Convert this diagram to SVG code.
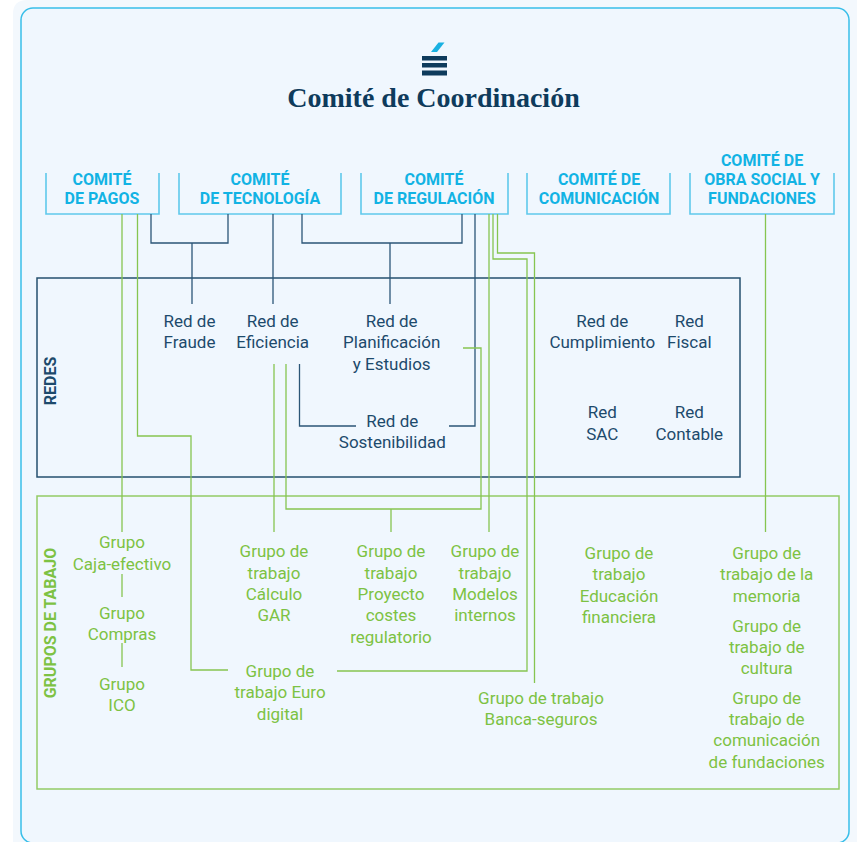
<svg xmlns="http://www.w3.org/2000/svg" width="857" height="842" viewBox="0 0 857 842">
<style>
.cm{font-family:Roboto,"Liberation Sans",sans-serif;font-weight:700;font-size:16px;fill:#12B3E4;text-anchor:middle}
.cb{fill:none;stroke:#5FC9EC;stroke-width:1.6}
.rd{font-family:Roboto,"Liberation Sans",sans-serif;font-size:17px;fill:#1D4A6C;text-anchor:middle}
.gr{font-family:Roboto,"Liberation Sans",sans-serif;font-size:17px;fill:#7DC243;text-anchor:middle}
.lbl{font-family:Roboto,"Liberation Sans",sans-serif;font-weight:700;font-size:16px;text-anchor:middle}
.dk{fill:none;stroke:#2B5677;stroke-width:1.3}
.gn{fill:none;stroke:#86C550;stroke-width:1.3}
</style>
<path d="M13,842 V14 Q13,0 27,0 H857 V842 Z" fill="#F3F8FD"/>
<rect x="21" y="8" width="828" height="835" rx="12" fill="#F0F7FE" stroke="#38BEE9" stroke-width="1.5"/>

<g id="title">
  <polygon points="431,52 437,52 444.5,42.5 438.5,42.5" fill="#19B1E2"/>
  <rect x="422" y="56" width="25" height="4.5" fill="#0E3B5C"/>
  <rect x="422" y="63" width="25" height="4.5" fill="#0E3B5C"/>
  <rect x="422" y="70.5" width="25" height="5" fill="#0E3B5C"/>
  <text x="433.5" y="106.5" font-family="'Liberation Serif',serif" font-weight="700" font-size="28" fill="#0E3B5C" text-anchor="middle">Comité de Coordinación</text>
</g>

<g id="comite-pagos">
  <path class="cb" d="M46,173 V214 H159 V173"/>
  <text class="cm" x="102" y="185">COMITÉ</text>
  <text class="cm" x="102" y="204">DE PAGOS</text>
</g>
<g id="comite-tecnologia">
  <path class="cb" d="M179,173 V214 H341 V173"/>
  <text class="cm" x="260" y="185">COMITÉ</text>
  <text class="cm" x="260" y="204">DE TECNOLOGÍA</text>
</g>
<g id="comite-regulacion">
  <path class="cb" d="M361,173 V214 H508 V173"/>
  <text class="cm" x="434" y="185">COMITÉ</text>
  <text class="cm" x="434" y="204">DE REGULACIÓN</text>
</g>
<g id="comite-comunicacion">
  <path class="cb" d="M527,173 V214 H670 V173"/>
  <text class="cm" x="599" y="185">COMITÉ DE</text>
  <text class="cm" x="599" y="204">COMUNICACIÓN</text>
</g>
<g id="comite-obra-social">
  <path class="cb" d="M690,173 V214 H834 V173"/>
  <text class="cm" x="762" y="166">COMITÉ DE</text>
  <text class="cm" x="762" y="185">OBRA SOCIAL Y</text>
  <text class="cm" x="762" y="204">FUNDACIONES</text>
</g>

<g id="redes">
  <rect x="37" y="278" width="703" height="199" fill="none" stroke="#25506F" stroke-width="1.5"/>
  <text class="lbl" fill="#1D4A6C" transform="translate(55.7,381) rotate(-90)">REDES</text>
</g>
<g id="red-fraude"><text class="rd" x="189.5" y="326.7">Red de</text><text class="rd" x="189.5" y="348.3">Fraude</text></g>
<g id="red-eficiencia"><text class="rd" x="272.7" y="326.7">Red de</text><text class="rd" x="272.7" y="348.3">Eficiencia</text></g>
<g id="red-planificacion"><text class="rd" x="391.7" y="326.7">Red de</text><text class="rd" x="391.7" y="348.3">Planificación</text><text class="rd" x="391.7" y="369.7">y Estudios</text></g>
<g id="red-sostenibilidad"><text class="rd" x="392.3" y="426.7">Red de</text><text class="rd" x="392.3" y="448.3">Sostenibilidad</text></g>
<g id="red-cumplimiento"><text class="rd" x="602.3" y="326.7">Red de</text><text class="rd" x="602.3" y="348.3">Cumplimiento</text></g>
<g id="red-fiscal"><text class="rd" x="689.3" y="326.7">Red</text><text class="rd" x="689.3" y="348.3">Fiscal</text></g>
<g id="red-sac"><text class="rd" x="602.3" y="418.3">Red</text><text class="rd" x="602.3" y="439.5">SAC</text></g>
<g id="red-contable"><text class="rd" x="689.3" y="418.3">Red</text><text class="rd" x="689.3" y="439.5">Contable</text></g>

<g id="grupos">
  <rect x="37" y="496" width="802" height="293" fill="none" stroke="#92CB66" stroke-width="1.5"/>
  <text class="lbl" fill="#7DC243" transform="translate(55.7,623) rotate(-90)">GRUPOS DE TABAJO</text>
</g>
<g id="g-caja"><text class="gr" x="122" y="548.3">Grupo</text><text class="gr" x="122" y="569.5">Caja-efectivo</text></g>
<g id="g-compras"><text class="gr" x="122" y="618.5">Grupo</text><text class="gr" x="122" y="640">Compras</text></g>
<g id="g-ico"><text class="gr" x="122" y="690">Grupo</text><text class="gr" x="122" y="711">ICO</text></g>
<g id="g-gar"><text class="gr" x="274" y="557.3">Grupo de</text><text class="gr" x="274" y="578.7">trabajo</text><text class="gr" x="274" y="600">Cálculo</text><text class="gr" x="274" y="621.2">GAR</text></g>
<g id="g-costes"><text class="gr" x="391" y="557.3">Grupo de</text><text class="gr" x="391" y="578.7">trabajo</text><text class="gr" x="391" y="600">Proyecto</text><text class="gr" x="391" y="621.2">costes</text><text class="gr" x="391" y="642.7">regulatorio</text></g>
<g id="g-modelos"><text class="gr" x="485" y="557.3">Grupo de</text><text class="gr" x="485" y="578.7">trabajo</text><text class="gr" x="485" y="600">Modelos</text><text class="gr" x="485" y="621.2">internos</text></g>
<g id="g-educacion"><text class="gr" x="619" y="559">Grupo de</text><text class="gr" x="619" y="580.3">trabajo</text><text class="gr" x="619" y="601.5">Educación</text><text class="gr" x="619" y="622.7">financiera</text></g>
<g id="g-memoria"><text class="gr" x="766.7" y="559">Grupo de</text><text class="gr" x="766.7" y="580.3">trabajo de la</text><text class="gr" x="766.7" y="601.5">memoria</text></g>
<g id="g-cultura"><text class="gr" x="766.7" y="631.5">Grupo de</text><text class="gr" x="766.7" y="652.5">trabajo de</text><text class="gr" x="766.7" y="673.5">cultura</text></g>
<g id="g-fundaciones"><text class="gr" x="766.7" y="704">Grupo de</text><text class="gr" x="766.7" y="725">trabajo de</text><text class="gr" x="766.7" y="746.3">comunicación</text><text class="gr" x="766.7" y="767.7">de fundaciones</text></g>
<g id="g-euro"><text class="gr" x="280" y="676.7">Grupo de</text><text class="gr" x="280" y="698.3">trabajo Euro</text><text class="gr" x="280" y="719.5">digital</text></g>
<g id="g-banca"><text class="gr" x="541" y="704">Grupo de trabajo</text><text class="gr" x="541" y="725">Banca-seguros</text></g>

<g id="connectors">
  <path class="dk" d="M151,214 V243 H228 V214"/>
  <path class="dk" d="M192,243 V304"/>
  <path class="dk" d="M273,214 V304"/>
  <path class="dk" d="M302,214 V243 H462 V214"/>
  <path class="dk" d="M390,243 V304"/>
  <path class="dk" d="M475,214 V426 H449"/>
  <path class="dk" d="M299.5,364 V426 H356"/>
  <path class="gn" d="M122,214 V532"/>
  <path class="gn" d="M122,574 V597"/>
  <path class="gn" d="M122,643 V667"/>
  <path class="gn" d="M137.5,214 V436 H191 V670 H228"/>
  <path class="gn" d="M274,364 V532"/>
  <path class="gn" d="M286,364 V509 H481 V348 H463"/>
  <path class="gn" d="M391,509 V532"/>
  <path class="gn" d="M489,214 V532"/>
  <path class="gn" d="M493,214 V259 H527 V671 H337"/>
  <path class="gn" d="M497.5,214 V253 H534.5 V683"/>
  <path class="gn" d="M765.5,214 V532"/>
</g>
</svg>
